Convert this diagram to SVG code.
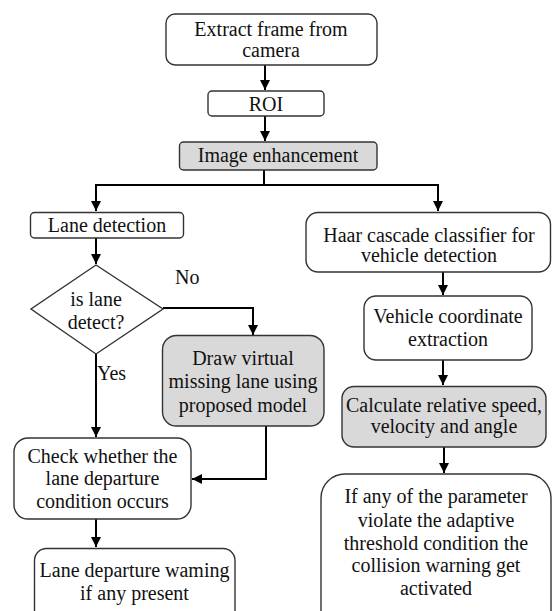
<svg xmlns="http://www.w3.org/2000/svg" width="554" height="611" viewBox="0 0 554 611">
<style>
.box{fill:#fff;stroke:#333;stroke-width:1.4}
.gray{fill:#d9d9d9;stroke:#333;stroke-width:1.4}
text{font-family:"Liberation Serif","Times New Roman",Times,Tinos,"Nimbus Roman","Noto Serif","DejaVu Serif",serif;font-size:20px;fill:#111}
.t{text-anchor:middle}
.c{fill:none;stroke:#000;stroke-width:2}
</style>
<defs>
<marker id="ah" markerUnits="userSpaceOnUse" markerWidth="12" markerHeight="12" refX="10" refY="5" orient="auto">
<path d="M0,0 L10,5 L0,10 z" fill="#000"/>
</marker>
</defs>
<rect width="554" height="611" fill="#fff"/>
<g id="connectors">
<path class="c" d="M265,65 V90" marker-end="url(#ah)"/>
<path class="c" d="M265,116 V141" marker-end="url(#ah)"/>
<path class="c" d="M264,170 V185"/>
<path class="c" d="M96,185 H438"/>
<path class="c" d="M96,184 V211" marker-end="url(#ah)"/>
<path class="c" d="M438,184 V211" marker-end="url(#ah)"/>
<path class="c" d="M96,238 V264" marker-end="url(#ah)"/>
<path class="c" d="M163,308 H253 V335" marker-end="url(#ah)"/>
<path class="c" d="M96,354 V437" marker-end="url(#ah)"/>
<path class="c" d="M266,426 V479 H192" marker-end="url(#ah)"/>
<path class="c" d="M96,519 V547" marker-end="url(#ah)"/>
<path class="c" d="M443,272 V295" marker-end="url(#ah)"/>
<path class="c" d="M443,360 V385" marker-end="url(#ah)"/>
<path class="c" d="M444,447 V473" marker-end="url(#ah)"/>
</g>
<g id="extract">
<rect class="box" x="166" y="14" width="211" height="51" rx="9"/>
<text class="t" x="271" y="36">Extract frame from</text>
<text class="t" x="271" y="57">camera</text>
</g>
<g id="roi">
<rect class="box" x="208" y="91" width="116" height="25" rx="4"/>
<text class="t" x="266" y="111">ROI</text>
</g>
<g id="enhance">
<rect class="gray" x="179.5" y="142" width="197.5" height="28" rx="4"/>
<text class="t" x="278" y="162">Image enhancement</text>
</g>
<g id="lane">
<rect class="box" x="30.5" y="212.5" width="153" height="25.5" rx="4"/>
<text class="t" x="107" y="232">Lane detection</text>
</g>
<g id="decision">
<polygon class="box" points="96,265 163,309 96,354 31,309"/>
<text class="t" x="96" y="306">is lane</text>
<text class="t" x="96" y="329">detect?</text>
</g>
<g id="labels">
<text x="175" y="284">No</text>
<text x="97" y="380">Yes</text>
</g>
<g id="draw">
<rect class="gray" x="162.5" y="335.5" width="161.5" height="90.5" rx="14"/>
<text class="t" x="243" y="365">Draw virtual</text>
<text class="t" x="243" y="388">missing lane using</text>
<text class="t" x="243" y="412">proposed model</text>
</g>
<g id="check">
<rect class="box" x="14" y="438" width="177" height="81" rx="14"/>
<text class="t" x="102.5" y="463">Check whether the</text>
<text class="t" x="102.5" y="485">lane departure</text>
<text class="t" x="102.5" y="508">condition occurs</text>
</g>
<g id="warning">
<rect class="box" x="34.5" y="548.5" width="200.5" height="80" rx="12"/>
<text class="t" x="134.5" y="577">Lane departure waming</text>
<text class="t" x="134.5" y="600">if any present</text>
</g>
<g id="haar">
<rect class="box" x="306" y="212.5" width="244.5" height="59.5" rx="12"/>
<text class="t" x="429" y="242">Haar cascade classifier for</text>
<text class="t" x="429" y="262">vehicle detection</text>
</g>
<g id="vehicle">
<rect class="box" x="364" y="296" width="168" height="64" rx="12"/>
<text class="t" x="448" y="323">Vehicle coordinate</text>
<text class="t" x="448" y="346">extraction</text>
</g>
<g id="calc">
<rect class="gray" x="342" y="386.5" width="204" height="60.5" rx="12"/>
<text class="t" x="444" y="412">Calculate relative speed,</text>
<text class="t" x="444" y="433">velocity and angle</text>
</g>
<g id="collision">
<rect class="box" x="321" y="474" width="230" height="170" rx="24"/>
<text class="t" x="436" y="503">If any of the parameter</text>
<text class="t" x="436" y="527">violate the adaptive</text>
<text class="t" x="436" y="550">threshold condition the</text>
<text class="t" x="436" y="572">collision warning get</text>
<text class="t" x="436" y="595">activated</text>
</g>
</svg>
